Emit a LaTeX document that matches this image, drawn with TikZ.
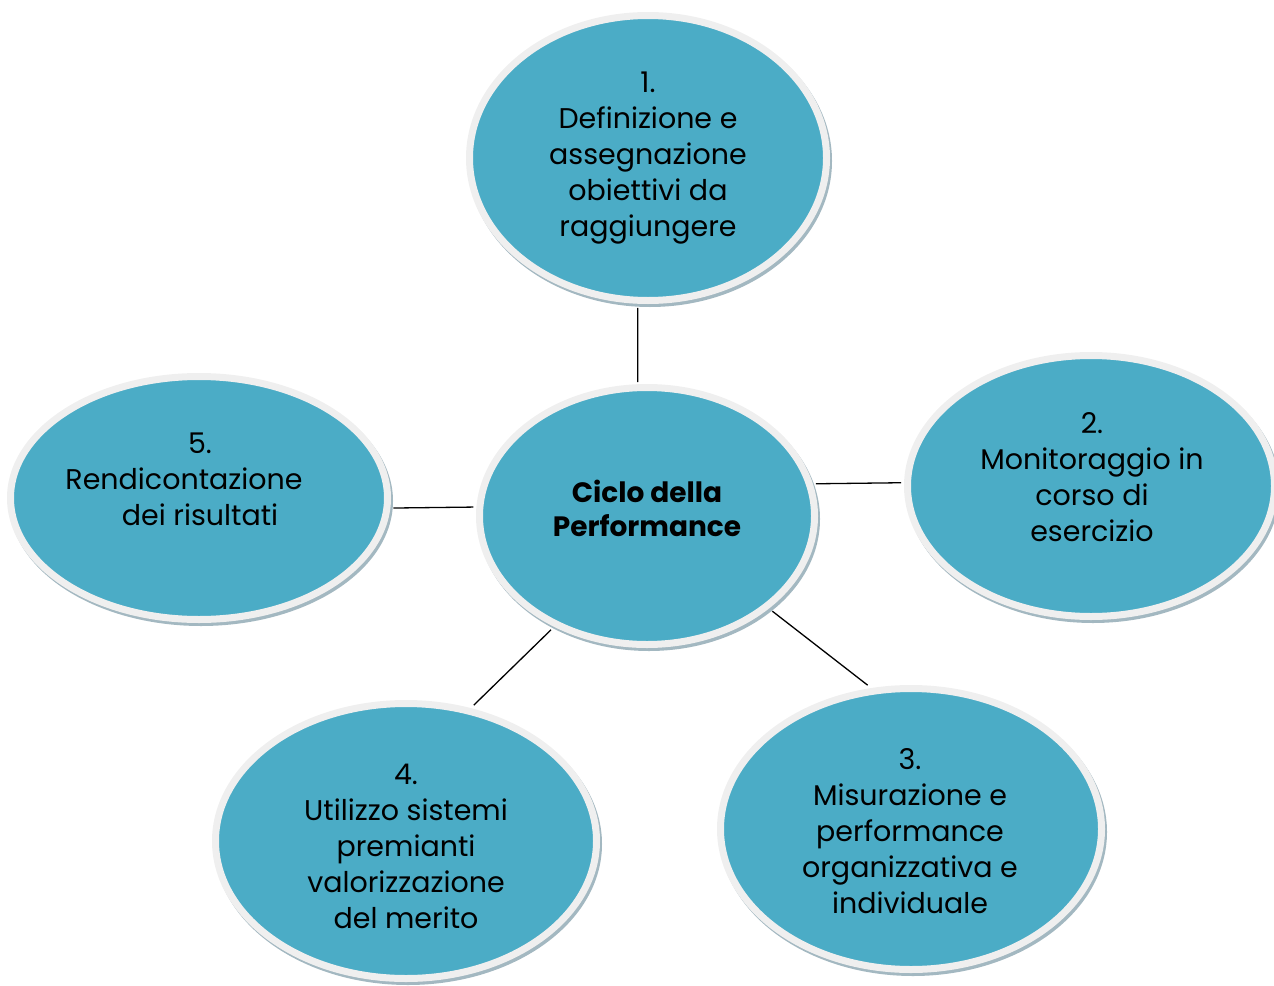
\documentclass[tikz,border=0pt]{standalone}
\usepackage{fontspec}
\setmainfont{Poppins}
\usetikzlibrary{shapes.geometric,calc}
\definecolor{bub}{HTML}{4BACC6}
\definecolor{ringc}{HTML}{EFEFEF}
\definecolor{shad}{HTML}{A3B8C1}
\tikzset{
  bubble/.style={ellipse, fill=bub, draw=ringc, line width=7pt, inner sep=0pt},
  bshadow/.style={fill=shad},
  txt/.style={align=center, inner sep=0pt, text=black, font=\fontsize{28.5}{36}\selectfont},
  ttl/.style={align=center, inner sep=0pt, text=black, font=\bfseries\fontsize{28}{34}\selectfont},
  link/.style={draw=black, line width=1.3pt}
}
\newcommand\mybubble[5]{%
  \fill[bshadow] (#2+2,#3+3) ellipse [x radius=#4, y radius=#5];
  \node[bubble, minimum width={(2*#4-7)*1pt}, minimum height={(2*#5-7)*1pt}] (#1) at (#2,#3) {};
}
\begin{document}
\begin{tikzpicture}[x=1pt,y=-1pt]
\useasboundingbox (0,0) rectangle (1274,985);
\mybubble{n1}{648}{158}{182}{146}
\mybubble{c}{647}{516}{171}{132}
\mybubble{n2}{1091}{486}{187}{134}
\mybubble{n5}{199}{498}{192}{125}
\mybubble{n4}{406}{841}{194}{141}
\mybubble{n3}{911}{829}{194}{144}

\node[txt] (t1) at (648,158) {1.\\Definizione e\\assegnazione\\obiettivi da\\raggiungere};
\node[ttl] (tc) at (647,508) {Ciclo della\\Performance};
\node[txt] (t2) at (1092,477) {2.\\Monitoraggio in\\corso di\\esercizio};
\node[txt] (t5) at (200,479) {5.\\Rendicontazione\kern32pt\\dei risultati};
\node[txt] (t4) at (406,846) {4.\\Utilizzo sistemi\\premianti\\valorizzazione\\del merito};
\node[txt] (t3) at (910,831) {3.\\Misurazione e\\performance\\organizzativa e\\individuale};

\draw[link] ([yshift=-4pt]n1.-94) -- ([yshift=2pt]c.94);
\draw[link] ([xshift=3pt]c.11.2) -- ([xshift=-3pt]n2.179.6);
\draw[link] ([xshift=3pt]n5.-3) -- ([xshift=-3pt]c.177.3);
\draw[link] ([shift={(-3pt,-3pt)}]c.-130.4) -- ([shift={(3pt,3pt)}]n4.64);
\draw[link] ([shift={(3pt,-3pt)}]c.-37.2) -- ([shift={(-3pt,3pt)}]n3.106.2);
\end{tikzpicture}
\end{document}
